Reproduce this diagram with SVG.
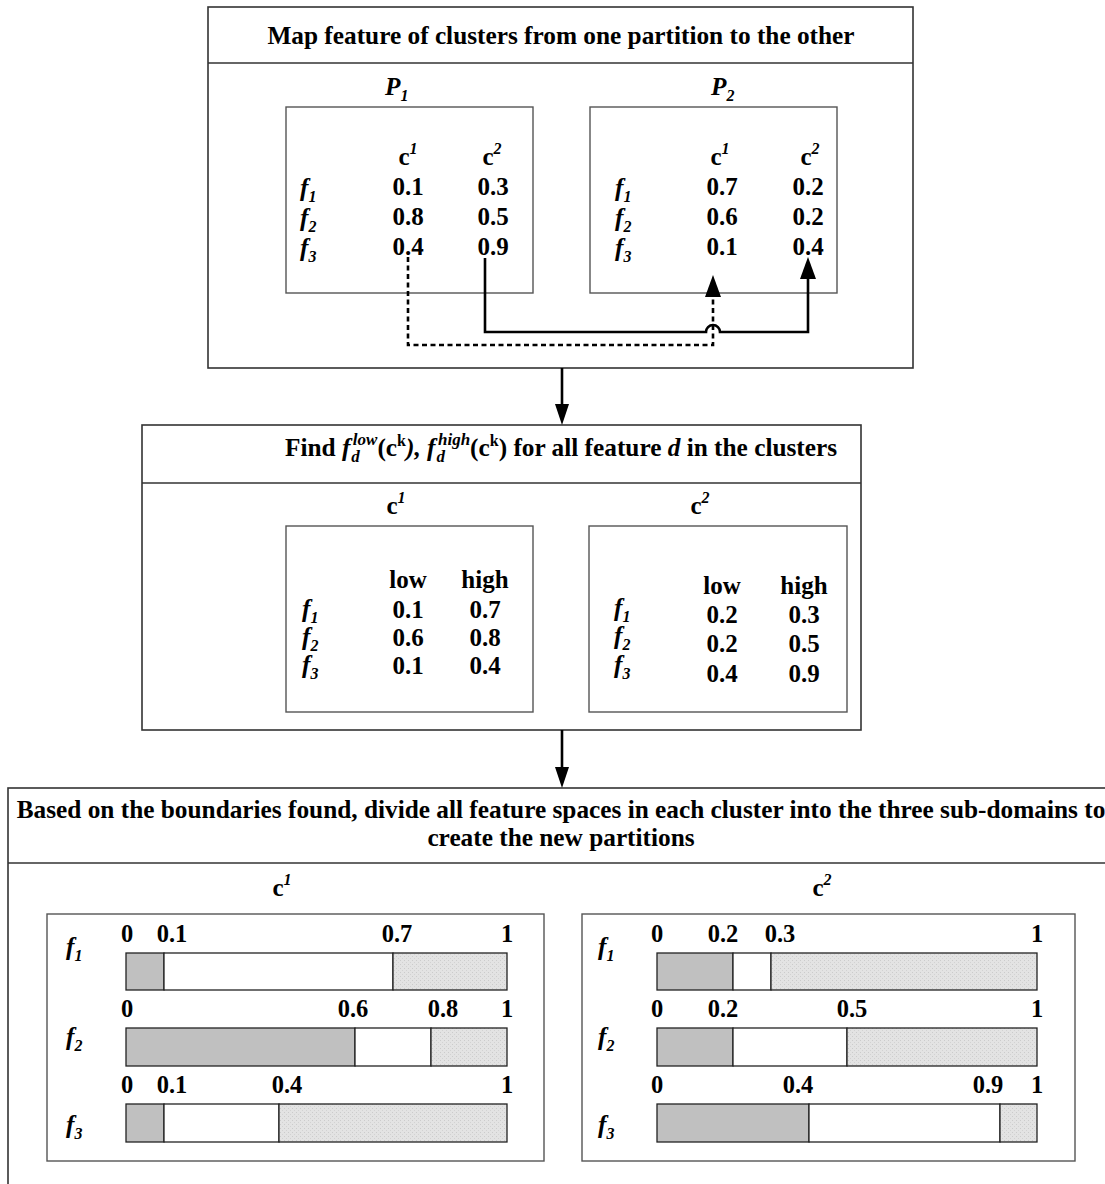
<svg xmlns="http://www.w3.org/2000/svg" width="1105" height="1184" viewBox="0 0 1105 1184">
<style>
text{font-family:"Liberation Serif","Times New Roman",serif;font-weight:bold;fill:#000}
.t{font-size:25.3px}
.v{font-size:25px;text-anchor:middle}
.n{font-size:24.5px;text-anchor:middle}
.i{font-style:italic}
.s{font-size:16px}
.ss{font-size:17px}
.box{fill:#fff;stroke:#333;stroke-width:1.6}
.in{fill:#fff;stroke:#555;stroke-width:1.4}
.bar{stroke:#222;stroke-width:1.3}
.g{fill:#c0c0c0}
.w{fill:#fff}
.d{fill:url(#dots)}
.ln{fill:none;stroke:#000;stroke-width:2.6}
.ah{fill:#000}
</style>
<defs>
<pattern id="dots" width="4" height="4" patternUnits="userSpaceOnUse">
<rect width="4" height="4" fill="#e3e3e3"/>
<rect x="0" y="0" width="1" height="1" fill="#cbcbcb"/>
<rect x="2" y="2" width="1" height="1" fill="#d2d2d2"/>
</pattern>
</defs>

<g id="panel-map">
<rect class="box" x="208" y="7" width="705" height="361"/>
<line x1="208" y1="63" x2="913" y2="63" stroke="#333" stroke-width="1.6"/>
<text class="t" x="561" y="44" text-anchor="middle">Map feature of clusters from one partition to the other</text>
<text class="t i" x="385" y="95">P<tspan class="s" dy="6">1</tspan></text>
<text class="t i" x="711" y="95">P<tspan class="s" dy="6">2</tspan></text>
</g>

<g id="table-p1">
<rect class="in" x="286" y="107" width="247" height="186"/>
<text class="v" x="408" y="165">c<tspan class="s i" dy="-11">1</tspan></text>
<text class="v" x="492" y="165">c<tspan class="s i" dy="-11">2</tspan></text>
<text class="t i" x="300" y="196">f<tspan class="s" dy="6">1</tspan></text>
<text class="t i" x="300" y="226">f<tspan class="s" dy="6">2</tspan></text>
<text class="t i" x="300" y="256">f<tspan class="s" dy="6">3</tspan></text>
<text class="v" x="408" y="195">0.1</text><text class="v" x="493" y="195">0.3</text>
<text class="v" x="408" y="225">0.8</text><text class="v" x="493" y="225">0.5</text>
<text class="v" x="408" y="255">0.4</text><text class="v" x="493" y="255">0.9</text>
</g>

<g id="table-p2">
<rect class="in" x="590" y="107" width="247" height="186"/>
<text class="v" x="720" y="165">c<tspan class="s i" dy="-11">1</tspan></text>
<text class="v" x="810" y="165">c<tspan class="s i" dy="-11">2</tspan></text>
<text class="t i" x="615" y="196">f<tspan class="s" dy="6">1</tspan></text>
<text class="t i" x="615" y="226">f<tspan class="s" dy="6">2</tspan></text>
<text class="t i" x="615" y="256">f<tspan class="s" dy="6">3</tspan></text>
<text class="v" x="722" y="195">0.7</text><text class="v" x="808" y="195">0.2</text>
<text class="v" x="722" y="225">0.6</text><text class="v" x="808" y="225">0.2</text>
<text class="v" x="722" y="255">0.1</text><text class="v" x="808" y="255">0.4</text>
</g>

<g id="panel-bounds">
<rect class="box" x="142" y="425" width="719" height="305"/>
<line x1="142" y1="483" x2="861" y2="483" stroke="#333" stroke-width="1.6"/>
<text class="t" x="561" y="456" text-anchor="middle">Find <tspan class="i">f</tspan><tspan class="i ss" dx="1" dy="6">d</tspan><tspan class="i ss" dx="-7" dy="-17">low</tspan><tspan dy="11">(c</tspan><tspan class="s" dy="-10">k</tspan><tspan dy="10" class="i">), f</tspan><tspan class="i ss" dx="1" dy="6">d</tspan><tspan class="i ss" dx="-7" dy="-17">high</tspan><tspan dy="11">(c</tspan><tspan class="s" dy="-10">k</tspan><tspan dy="10">) for all feature </tspan><tspan class="i">d</tspan> in the clusters</text>
<text class="v" x="396" y="514">c<tspan class="s i" dy="-11">1</tspan></text>
<text class="v" x="700" y="514">c<tspan class="s i" dy="-11">2</tspan></text>
</g>

<g id="bounds-c1">
<rect class="in" x="286" y="526" width="247" height="186"/>
<text class="v" x="408" y="588">low</text><text class="v" x="485" y="588">high</text>
<text class="t i" x="302" y="617">f<tspan class="s" dy="6">1</tspan></text>
<text class="t i" x="302" y="645">f<tspan class="s" dy="6">2</tspan></text>
<text class="t i" x="302" y="673">f<tspan class="s" dy="6">3</tspan></text>
<text class="v" x="408" y="618">0.1</text><text class="v" x="485" y="618">0.7</text>
<text class="v" x="408" y="646">0.6</text><text class="v" x="485" y="646">0.8</text>
<text class="v" x="408" y="674">0.1</text><text class="v" x="485" y="674">0.4</text>
</g>

<g id="bounds-c2">
<rect class="in" x="589" y="526" width="258" height="186"/>
<text class="v" x="722" y="594">low</text><text class="v" x="804" y="594">high</text>
<text class="t i" x="614" y="616">f<tspan class="s" dy="6">1</tspan></text>
<text class="t i" x="614" y="644">f<tspan class="s" dy="6">2</tspan></text>
<text class="t i" x="614" y="673">f<tspan class="s" dy="6">3</tspan></text>
<text class="v" x="722" y="623">0.2</text><text class="v" x="804" y="623">0.3</text>
<text class="v" x="722" y="652">0.2</text><text class="v" x="804" y="652">0.5</text>
<text class="v" x="722" y="682">0.4</text><text class="v" x="804" y="682">0.9</text>
</g>

<g id="panel-partitions">
<rect class="box" x="8" y="788" width="1120" height="420"/>
<line x1="8" y1="863" x2="1105" y2="863" stroke="#333" stroke-width="1.6"/>
<text class="t" x="561" y="818" text-anchor="middle">Based on the boundaries found, divide all feature spaces in each cluster into the three sub-domains to</text>
<text class="t" x="561" y="846" text-anchor="middle">create the new partitions</text>
<text class="v" x="282" y="896">c<tspan class="s i" dy="-11">1</tspan></text>
<text class="v" x="822" y="896">c<tspan class="s i" dy="-11">2</tspan></text>
</g>

<g id="bars-c1">
<rect class="in" x="47" y="914" width="497" height="247" stroke="#333"/>
<text class="t i" x="66" y="955">f<tspan class="s" dy="6">1</tspan></text>
<text class="t i" x="66" y="1045">f<tspan class="s" dy="6">2</tspan></text>
<text class="t i" x="66" y="1133">f<tspan class="s" dy="6">3</tspan></text>
<text class="n" x="127" y="942">0</text><text class="n" x="172" y="942">0.1</text><text class="n" x="397" y="942">0.7</text><text class="n" x="507" y="942">1</text>
<rect class="bar g" x="126" y="953" width="38" height="37"/><rect class="bar w" x="164" y="953" width="229" height="37"/><rect class="bar d" x="393" y="953" width="114" height="37"/>
<text class="n" x="127" y="1017">0</text><text class="n" x="353" y="1017">0.6</text><text class="n" x="443" y="1017">0.8</text><text class="n" x="507" y="1017">1</text>
<rect class="bar g" x="126" y="1028" width="229" height="38"/><rect class="bar w" x="355" y="1028" width="76" height="38"/><rect class="bar d" x="431" y="1028" width="76" height="38"/>
<text class="n" x="127" y="1093">0</text><text class="n" x="172" y="1093">0.1</text><text class="n" x="287" y="1093">0.4</text><text class="n" x="507" y="1093">1</text>
<rect class="bar g" x="126" y="1104" width="38" height="38"/><rect class="bar w" x="164" y="1104" width="115" height="38"/><rect class="bar d" x="279" y="1104" width="228" height="38"/>
</g>

<g id="bars-c2">
<rect class="in" x="582" y="914" width="493" height="247" stroke="#333"/>
<text class="t i" x="598" y="955">f<tspan class="s" dy="6">1</tspan></text>
<text class="t i" x="598" y="1045">f<tspan class="s" dy="6">2</tspan></text>
<text class="t i" x="598" y="1133">f<tspan class="s" dy="6">3</tspan></text>
<text class="n" x="657" y="942">0</text><text class="n" x="723" y="942">0.2</text><text class="n" x="780" y="942">0.3</text><text class="n" x="1037" y="942">1</text>
<rect class="bar g" x="657" y="953" width="76" height="37"/><rect class="bar w" x="733" y="953" width="38" height="37"/><rect class="bar d" x="771" y="953" width="266" height="37"/>
<text class="n" x="657" y="1017">0</text><text class="n" x="723" y="1017">0.2</text><text class="n" x="852" y="1017">0.5</text><text class="n" x="1037" y="1017">1</text>
<rect class="bar g" x="657" y="1028" width="76" height="38"/><rect class="bar w" x="733" y="1028" width="114" height="38"/><rect class="bar d" x="847" y="1028" width="190" height="38"/>
<text class="n" x="657" y="1093">0</text><text class="n" x="798" y="1093">0.4</text><text class="n" x="988" y="1093">0.9</text><text class="n" x="1037" y="1093">1</text>
<rect class="bar g" x="657" y="1104" width="152" height="38"/><rect class="bar w" x="809" y="1104" width="191" height="38"/><rect class="bar d" x="1000" y="1104" width="37" height="38"/>
</g>

<g id="connectors">
<path class="ln" d="M408 257 V345 H713 V296" stroke-dasharray="5 3.5"/>
<polygon class="ah" points="713,275 705,297 721,297"/>
<path class="ln" d="M485 258 V332 H706 A7 7 0 0 1 720 332 H808 V278"/>
<polygon class="ah" points="808,257 800,279 816,279"/>
<line class="ln" x1="562" y1="368" x2="562" y2="406"/>
<polygon class="ah" points="562,425 555,404 569,404"/>
<line class="ln" x1="562" y1="730" x2="562" y2="769"/>
<polygon class="ah" points="562,788 555,767 569,767"/>
</g>
</svg>
